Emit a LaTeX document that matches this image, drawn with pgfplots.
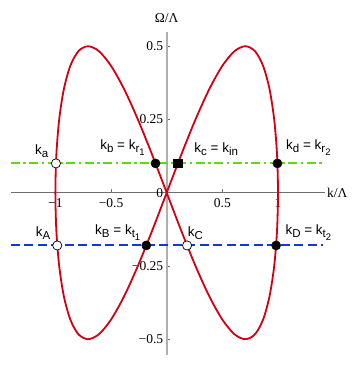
\documentclass[border=0pt]{standalone}
\usepackage{fontspec}
\setmainfont{Liberation Serif}
\newfontfamily\lsans{Liberation Sans}
\usepackage{pgfplots}
\pgfplotsset{compat=1.18}
\definecolor{curvered}{RGB}{210,0,20}
\definecolor{mygreen}{RGB}{100,215,20}
\definecolor{myblue}{RGB}{20,55,215}
\definecolor{axgrey}{RGB}{175,175,175}
\definecolor{xgrey}{RGB}{110,110,110}
\newcommand{\lab}{\lsans\fontsize{13.5}{15}\selectfont}
\newcommand{\sub}[1]{\raisebox{-3.2pt}{\fontsize{11.5}{12}\selectfont #1}}
\newcommand{\subsub}[1]{\raisebox{-2.6pt}{\fontsize{9.5}{10}\selectfont #1}}
\begin{document}
\begin{tikzpicture}
\begin{axis}[
  scale only axis,
  width=313.9pt, height=323.5pt,
  xmin=-1.40, xmax=1.42, ymin=-0.554, ymax=0.55,
  axis x line*=middle,
  axis y line*=middle,
  separate axis lines,
  x axis line style={draw=xgrey, line width=0.7pt},
  y axis line style={draw=axgrey, line width=2.2pt},
  xtick={-1,-0.5,0.5,1},
  xticklabels={−1,−0.5,0.5,1},
  ytick={-0.5,-0.25,0.25,0.5},
  yticklabels={−0.5,−0.25,0.25,0.5},
  tick align=inside,
  major tick length=3.5pt,
  tick style={draw=xgrey, line width=0.5pt},
  xticklabel style={font=\fontsize{13.5}{14}\selectfont, yshift=-2pt},
  yticklabel style={font=\fontsize{13.5}{14}\selectfont},
  clip=false,
]
\path (axis cs:-1.4977,0.6577) rectangle (axis cs:1.6828,-0.6324);
\addplot[draw=mygreen, line width=2.1pt, dash pattern=on 9pt off 3.5pt on 2.5pt off 3.5pt] coordinates {(-1.40,0.1) (1.40,0.1)};
\addplot[draw=myblue, line width=1.9pt, dash pattern=on 9pt off 4.5pt] coordinates {(-1.40,-0.18) (1.40,-0.18)};
\addplot[draw=curvered, line width=1.8pt, smooth] coordinates {
(0,0) (0.1305,0.1294) (0.2588,0.2500) (0.3827,0.3536) (0.5000,0.4330) (0.6088,0.4830)
(0.7071,0.5000) (0.7934,0.4830) (0.8660,0.4330) (0.9239,0.3536) (0.9659,0.2500) (0.9914,0.1294)
(1.0000,0) (0.9914,-0.1294) (0.9659,-0.2500) (0.9239,-0.3536) (0.8660,-0.4330) (0.7934,-0.4830)
(0.7071,-0.5000) (0.6088,-0.4830) (0.5000,-0.4330) (0.3827,-0.3536) (0.2588,-0.2500) (0.1305,-0.1294)
(0,0) (-0.1305,0.1294) (-0.2588,0.2500) (-0.3827,0.3536) (-0.5000,0.4330) (-0.6088,0.4830)
(-0.7071,0.5000) (-0.7934,0.4830) (-0.8660,0.4330) (-0.9239,0.3536) (-0.9659,0.2500) (-0.9914,0.1294)
(-1.0000,0) (-0.9914,-0.1294) (-0.9659,-0.2500) (-0.9239,-0.3536) (-0.8660,-0.4330) (-0.7934,-0.4830)
(-0.7071,-0.5000) (-0.6088,-0.4830) (-0.5000,-0.4330) (-0.3827,-0.3536) (-0.2588,-0.2500) (-0.1305,-0.1294)
(0,0)};
\addplot[only marks, mark=*, mark size=4.6pt, mark options={fill=white, draw=black, line width=0.7pt}] coordinates {(-0.995,0.1) (-0.9831,-0.18) (0.1831,-0.18)};
\addplot[only marks, mark=*, mark size=4.6pt, draw=black, fill=black] coordinates {(-0.1005,0.1) (0.995,0.1) (-0.1831,-0.18) (0.9831,-0.18)};
\addplot[only marks, mark=square*, mark size=4.2pt, draw=black, fill=black] coordinates {(0.1005,0.1)};
\node[anchor=base, inner sep=0pt, font=\fontsize{13.5}{15}\selectfont] at (axis cs:0,0.5826) {Ω/Λ};
\node[anchor=west, inner sep=1pt, font=\fontsize{13.5}{15}\selectfont] at (axis cs:1.43,0) {k/Λ};
\node[anchor=east, inner sep=0pt, font=\fontsize{13.5}{14}\selectfont] at (axis cs:-0.03,0) {0};
\node[anchor=base west, inner sep=0pt] at (axis cs:-1.183,0.1317) {\lab k\sub{a}};
\node[anchor=base west, inner sep=0pt] at (axis cs:-0.598,0.148) {\lab k\sub{b} = k\sub{r\subsub{1}}};
\node[anchor=base west, inner sep=0pt] at (axis cs:0.248,0.1365) {\lab k\sub{c} = k\sub{in}};
\node[anchor=base west, inner sep=0pt] at (axis cs:1.072,0.148) {\lab k\sub{d} = k\sub{r\subsub{2}}};
\node[anchor=base west, inner sep=0pt] at (axis cs:-1.177,-0.148) {\lab k\sub{A}};
\node[anchor=base west, inner sep=0pt] at (axis cs:-0.644,-0.142) {\lab k\sub{B} = k\sub{t\subsub{1}}};
\node[anchor=base west, inner sep=0pt] at (axis cs:0.189,-0.150) {\lab k\sub{C}};
\node[anchor=base west, inner sep=0pt] at (axis cs:1.066,-0.142) {\lab k\sub{D} = k\sub{t\subsub{2}}};
\end{axis}
\end{tikzpicture}
\end{document}
